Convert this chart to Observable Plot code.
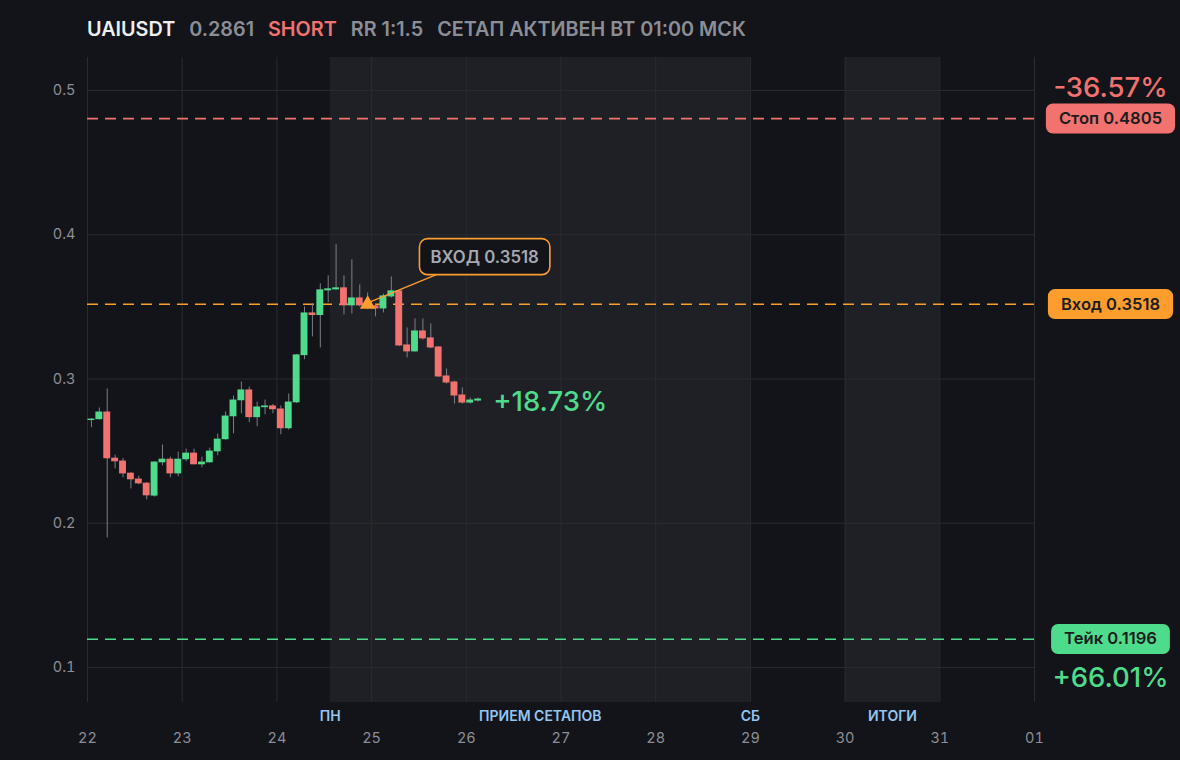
<!DOCTYPE html>
<html><head><meta charset="utf-8">
<script src="https://cdn.jsdelivr.net/npm/d3@7"></script>
<script src="https://cdn.jsdelivr.net/npm/@observablehq/plot@0.6"></script>
<style>
html,body{margin:0;padding:0;background:#131419;}
body{width:1180px;height:760px;overflow:hidden;font-family:Inter,"Noto Sans",sans-serif;}
#header{position:relative;height:50px;}
#title{position:absolute;left:87px;top:18px;font-size:19.8px;font-weight:600;line-height:22px;white-space:nowrap;display:flex;gap:14px;}
#chart svg{display:block;}
</style></head><body>
<div id="header"><div id="title">
<span style="color:#eceef2">UAIUSDT</span><span style="color:#8b8e96">0.2861</span><span style="color:#f2726f">SHORT</span><span style="color:#8b8e96">RR 1:1.5</span><span style="color:#8b8e96">СЕТАП АКТИВЕН ВТ 01:00 МСК</span>
</div></div>
<div id="chart"></div>
<script>
// ---- data ----
const startTime = "2022-01-22T00:00Z";
const candleHours = 2;
const opens  = [.2712,.2718,.2771,.2451,.2431,.2347,.2306,.2278,.2188,.2419,.2444,.2342,.2440,.2486,.2405,.2419,.2495,.2579,.2738,.2849,.2924,.2732,.2801,.2813,.2792,.2655,.2835,.3162,.3458,.3440,.3611,.3618,.3632,.3507,.3562,.3507,.3507,.3486,.3569,.3611,.3236,.3188,.3333,.3285,.3222,.3021,.2979,.2889,.2833,.2847];
const highs  = [.2724,.2799,.2931,.2472,.2449,.2350,.2326,.2280,.2426,.2542,.2458,.2493,.2514,.2514,.2458,.2521,.2618,.2771,.2882,.2979,.2944,.2840,.2854,.2824,.2813,.2896,.3170,.3500,.3521,.3660,.3715,.3931,.3715,.3826,.3653,.3597,.3514,.3590,.3708,.3615,.3354,.3417,.3417,.3382,.3225,.3069,.2985,.2938,.2868,.2868];
const lows   = [.2662,.2715,.1898,.2377,.2315,.2238,.2266,.2162,.2181,.2398,.2315,.2322,.2426,.2405,.2384,.2417,.2467,.2576,.2620,.2759,.2697,.2669,.2752,.2759,.2613,.2645,.2830,.3134,.3292,.3215,.3528,.3615,.3444,.3451,.3500,.3480,.3431,.3458,.3560,.3225,.3146,.3185,.3270,.3210,.3010,.2965,.2826,.2826,.2826,.2840];
const closes = [.2722,.2771,.2447,.2426,.2342,.2301,.2273,.2190,.2424,.2444,.2342,.2444,.2486,.2405,.2424,.2500,.2583,.2743,.2854,.2924,.2732,.2806,.2813,.2787,.2655,.2840,.3167,.3458,.3440,.3618,.3625,.3632,.3507,.3562,.3507,.3500,.3486,.3576,.3611,.3229,.3188,.3333,.3278,.3215,.3014,.2972,.2882,.2833,.2854,.2861];

const levelNames  = ["Стоп", "Вход", "Тейк"];
const levelValues = [0.4805, 0.3518, 0.1196];
const levelColors = ["#f2726f", "#fd9d2e", "#4edb8b"];
const levelPercents = ["-36.57%", null, "+66.01%"];

const entryTime = "2022-01-24T23:00Z";
const entryPrice = 0.3518;
const entryLabel = "ВХОД 0.3518";
const currentMove = "+18.73%";

const shadeStarts = ["2022-01-24T13:30Z", "2022-01-30T00:00Z"];
const shadeEnds   = ["2022-01-29T00:00Z", "2022-01-31T00:00Z"];
const phaseLabels = ["ПН", "ПРИЕМ СЕТАПОВ", "СБ", "ИТОГИ"];
const phaseDates  = ["2022-01-24T13:30Z", "2022-01-26T18:45Z", "2022-01-29T00:00Z", "2022-01-30T12:00Z"];

const xTickDates = ["2022-01-22","2022-01-23","2022-01-24","2022-01-25","2022-01-26","2022-01-27","2022-01-28","2022-01-29","2022-01-30","2022-01-31","2022-02-01"];
const yTicks = [0.1, 0.2, 0.3, 0.4, 0.5];
const yDomain = [0.0757, 0.5229];

// ---- tables ----
const t0 = new Date(startTime).getTime();
const H = 3600e3;
const candles = opens.map((o, i) => ({
  t1: new Date(t0 + i * candleHours * H),
  t2: new Date(t0 + (i + 1) * candleHours * H),
  tm: new Date(t0 + (i + 0.5) * candleHours * H),
  open: o, high: highs[i], low: lows[i], close: closes[i],
  color: closes[i] >= o ? "#4edb8b" : "#f2726f"
}));
const levels = levelNames.map((n, i) => ({name: n, value: levelValues[i], color: levelColors[i], label: `${n} ${levelValues[i].toFixed(4)}`, pct: levelPercents[i]}));
const shades = shadeStarts.map((s, i) => ({x1: new Date(s), x2: new Date(shadeEnds[i])}));
const phases = phaseLabels.map((l, i) => ({label: l, x: new Date(phaseDates[i])}));
const xTicks = xTickDates.map(d => new Date(d + "T00:00Z"));
const xEnd = xTicks[xTicks.length - 1];
const last = candles[candles.length - 1];

const plot = Plot.plot({
  width: 1180, height: 710,
  marginLeft: 87, marginRight: 146, marginTop: 7, marginBottom: 58,
  style: {background: "transparent", color: "#8b8e96", fontFamily: "Inter, 'Noto Sans', sans-serif", fontSize: "14px"},
  x: {type: "utc", domain: [xTicks[0], xEnd]},
  y: {domain: yDomain},
  marks: [
    Plot.rect(shades, {x1: "x1", x2: "x2", fill: "#1f2025"}),
    Plot.gridX({ticks: xTicks, stroke: "#2a2b31", strokeOpacity: 1}),
    Plot.gridY({ticks: yTicks, stroke: "#2a2b31", strokeOpacity: 1}),
    Plot.axisY({ticks: yTicks, tickSize: 0, tickPadding: 12, tickFormat: d => d.toFixed(1), fill: "#8b8e96", fontSize: 14.5, label: null}),
    Plot.axisX({ticks: xTicks, tickSize: 0, tickPadding: 30, tickFormat: d3.utcFormat("%d"), fill: "#8b8e96", fontSize: 14.5, label: null}),
    Plot.text(phases, {x: "x", text: "label", frameAnchor: "bottom", dy: 18, fill: "#93c6f3", fontSize: 14, fontWeight: 600}),
    Plot.ruleY(levels, {y: "value", stroke: "color", strokeWidth: 1.6, strokeDasharray: "11,7"}),
    Plot.ruleX(candles, {x: "tm", y1: "low", y2: "high", stroke: "#7c7f87", strokeWidth: 1}),
    Plot.rect(candles, {x1: "t1", x2: "t2", y1: "open", y2: "close", fill: "color", insetLeft: 0.5, insetRight: 0.5}),
    Plot.dot([{t: new Date(entryTime), p: entryPrice}], {x: "t", y: "p", symbol: "triangle", r: 5.8, fill: "#fd9d2e", stroke: null}),
    Plot.text([{t: new Date(entryTime), p: entryPrice, s: entryLabel}], {x: "t", y: "p", text: "s", dx: 117, dy: -47, fill: "#a6a9b0", fontSize: 16.8, fontWeight: 600, className: "callout"}),
    Plot.text([last], {x: "tm", y: "close", text: () => currentMove, textAnchor: "start", dx: 15, dy: 3, fill: "#4edb8b", fontSize: 27.5, fontWeight: 500}),
    Plot.text(levels, {x: () => xEnd, y: "value", text: "label", dx: 76, fill: "#1b1c20", fontSize: 16.6, fontWeight: 600, className: "badge"}),
    Plot.text(levels.filter(d => d.pct && d.value > entryPrice), {x: () => xEnd, y: "value", text: "pct", dx: 76, dy: -30, fill: "color", fontSize: 27.5, fontWeight: 500}),
    Plot.text(levels.filter(d => d.pct && d.value < entryPrice), {x: () => xEnd, y: "value", text: "pct", dx: 76, dy: 39, fill: "color", fontSize: 27.5, fontWeight: 500})
  ]
});
document.getElementById("chart").append(plot);

// ---- badges & callout backgrounds (sized from the rendered text) ----
const svg = d3.select(plot);
const sb = plot.getBoundingClientRect();
const badgeG = plot.querySelector("g.badge");
const bg = svg.insert("g", () => badgeG);
d3.select(badgeG).selectAll("text").each(function(d, i) {
  const r = this.getBoundingClientRect();
  const cx = (r.left + r.right) / 2 - sb.left, cy = (r.top + r.bottom) / 2 - sb.top;
  const w = r.width + 26, h = 30;
  bg.append("rect").attr("x", cx - w / 2).attr("y", cy - h / 2 + 0.5).attr("width", w).attr("height", h)
    .attr("rx", 7).attr("fill", levels[i].color);
});
const calloutG = plot.querySelector("g.callout");
const cg = svg.insert("g", () => calloutG);
const ct = calloutG.querySelector("text").getBoundingClientRect();
const bw = ct.width + 22, bh = 36;
const bx = (ct.left + ct.right) / 2 - sb.left - bw / 2, by = (ct.top + ct.bottom) / 2 - sb.top - bh / 2;
const xs = plot.scale("x"), ys = plot.scale("y");
const tx = xs.apply(new Date(entryTime)), ty = ys.apply(entryPrice);
cg.append("line").attr("x1", tx + 3).attr("y1", ty - 2).attr("x2", bx + 17).attr("y2", by + bh)
  .attr("stroke", "#fd9d2e").attr("stroke-width", 1.3);
cg.append("rect").attr("x", bx).attr("y", by).attr("width", bw).attr("height", bh).attr("rx", 8)
  .attr("fill", "#131419").attr("stroke", "#fd9d2e").attr("stroke-width", 1.6);
</script>
</body></html>
